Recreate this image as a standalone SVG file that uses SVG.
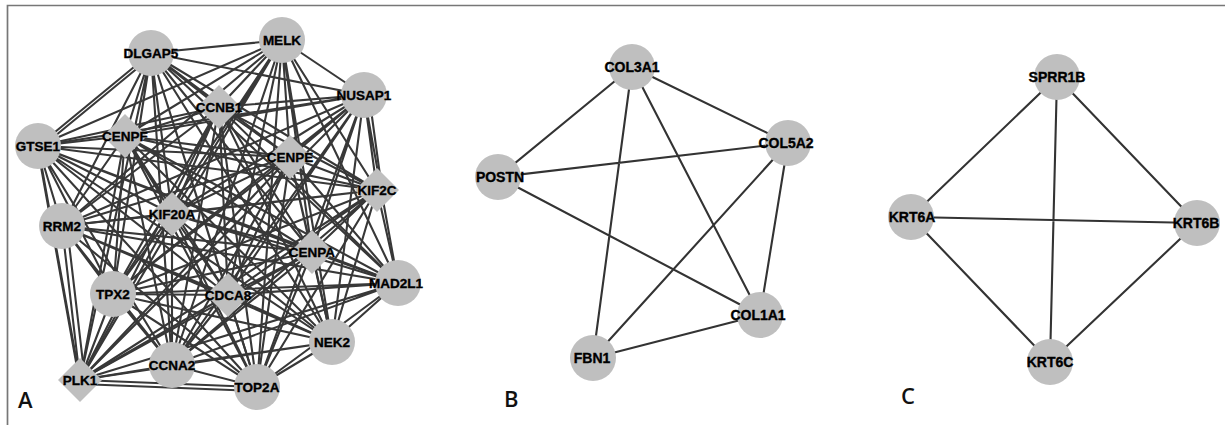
<svg xmlns="http://www.w3.org/2000/svg" width="1225" height="425" viewBox="0 0 1225 425">
<style>
.bg{fill:#ffffff}
.frame{fill:none;stroke:#777777;stroke-width:1.7}
.edgeA{fill:none;stroke:#383838;stroke-width:2.1}
.edge{fill:none;stroke:#333333;stroke-width:2.1}
.n{fill:#bfbfbf}
.t{font-family:"Liberation Sans",Arial,sans-serif;font-weight:bold;font-size:13.5px;fill:#000;stroke:#000;stroke-width:0.35;text-anchor:middle;dominant-baseline:central}
.tb{font-size:14px}
.panel{font-family:"Open Sans","Liberation Sans",sans-serif;font-weight:600;font-size:22px;fill:#111}
</style>
<defs>
<circle id="c" r="23" class="n"/>
<polygon id="d" points="0,-22 22,0 0,22 -22,0" class="n"/>
</defs>
<rect class="bg" x="0" y="0" width="1225" height="425"/>
<path class="frame" d="M7.5 425V5.5H1225"/>
<g id="connectors">
<g id="edges-A" class="edgeA">
<path d="M151 53L282 40M151 53L364 95M151 53L219 107M151 53L38 146M151 53L125 136M151 53L290 157M151 53L377 190M151 53L62 226M151 53L172 214M151 53L312 252M151 53L398 283M151 53L113 294M151 53L228 295M151 53L332 342M151 53L172 365M151 53L80 380M151 53L257 387"/>
<path d="M282 40L364 95M282 40L219 107M282 40L38 146M282 40L125 136M282 40L290 157M282 40L377 190M282 40L62 226M282 40L172 214M282 40L312 252M282 40L398 283M282 40L113 294M282 40L228 295M282 40L332 342M282 40L172 365M282 40L80 380M282 40L257 387"/>
<path d="M364 95L219 107M364 95L38 146M364 95L125 136M364 95L290 157M364 95L377 190M364 95L62 226M364 95L172 214M364 95L312 252M364 95L398 283M364 95L113 294M364 95L228 295M364 95L332 342M364 95L172 365M364 95L80 380M364 95L257 387"/>
<path d="M219 107L38 146M219 107L125 136M219 107L290 157M219 107L377 190M219 107L62 226M219 107L172 214M219 107L312 252M219 107L398 283M219 107L113 294M219 107L228 295M219 107L332 342M219 107L172 365M219 107L80 380M219 107L257 387"/>
<path d="M38 146L125 136M38 146L290 157M38 146L377 190M38 146L62 226M38 146L172 214M38 146L312 252M38 146L398 283M38 146L113 294M38 146L228 295M38 146L332 342M38 146L172 365M38 146L80 380M38 146L257 387"/>
<path d="M125 136L290 157M125 136L377 190M125 136L62 226M125 136L172 214M125 136L312 252M125 136L398 283M125 136L113 294M125 136L228 295M125 136L332 342M125 136L172 365M125 136L80 380M125 136L257 387"/>
<path d="M290 157L377 190M290 157L62 226M290 157L172 214M290 157L312 252M290 157L398 283M290 157L113 294M290 157L228 295M290 157L332 342M290 157L172 365M290 157L80 380M290 157L257 387"/>
<path d="M377 190L62 226M377 190L172 214M377 190L312 252M377 190L398 283M377 190L113 294M377 190L228 295M377 190L332 342M377 190L172 365M377 190L80 380M377 190L257 387"/>
<path d="M62 226L172 214M62 226L312 252M62 226L398 283M62 226L113 294M62 226L228 295M62 226L332 342M62 226L172 365M62 226L80 380M62 226L257 387"/>
<path d="M172 214L312 252M172 214L398 283M172 214L113 294M172 214L228 295M172 214L332 342M172 214L172 365M172 214L80 380M172 214L257 387"/>
<path d="M312 252L398 283M312 252L113 294M312 252L228 295M312 252L332 342M312 252L172 365M312 252L80 380M312 252L257 387"/>
<path d="M398 283L113 294M398 283L228 295M398 283L332 342M398 283L172 365M398 283L80 380M398 283L257 387"/>
<path d="M113 294L228 295M113 294L332 342M113 294L172 365M113 294L80 380M113 294L257 387"/>
<path d="M228 295L332 342M228 295L172 365M228 295L80 380M228 295L257 387"/>
<path d="M332 342L172 365M332 342L80 380M332 342L257 387"/>
<path d="M172 365L80 380M172 365L257 387"/>
<path d="M80 380L257 387"/>
<path d="M67 226L85 380M369 95L382 190M80 384L257 391M38 150L80 384M151 57L38 150"/>
</g>
<g id="edges-B" class="edge">
<path d="M632 67L498 177M632 67L593 358M632 67L760 315M632 67L788 143M498 177L788 143M498 177L760 315M788 143L593 358M788 143L760 315M593 358L760 315"/>
</g>
<g id="edges-C" class="edge">
<path d="M1057 77L911 217M1057 77L1197 223M1057 77L1050 362M911 217L1197 223M911 217L1050 362M1197 223L1050 362"/>
</g>
</g>
<g id="nodes-A">
<g id="n-DLGAP5"><use href="#c" x="151" y="53"/><text class="t" x="151" y="53">DLGAP5</text></g>
<g id="n-MELK"><use href="#c" x="282" y="40"/><text class="t" x="282" y="40">MELK</text></g>
<g id="n-NUSAP1"><use href="#c" x="364" y="95"/><text class="t" x="364" y="95">NUSAP1</text></g>
<g id="n-CCNB1"><use href="#d" x="219" y="107"/><text class="t" x="219" y="107">CCNB1</text></g>
<g id="n-GTSE1"><use href="#c" x="38" y="146"/><text class="t" x="38" y="146">GTSE1</text></g>
<g id="n-CENPF"><use href="#d" x="125" y="136"/><text class="t" x="125" y="136">CENPF</text></g>
<g id="n-CENPE"><use href="#d" x="290" y="157"/><text class="t" x="290" y="157">CENPE</text></g>
<g id="n-KIF2C"><use href="#d" x="377" y="190"/><text class="t" x="377" y="190">KIF2C</text></g>
<g id="n-RRM2"><use href="#c" x="62" y="226"/><text class="t" x="62" y="226">RRM2</text></g>
<g id="n-KIF20A"><use href="#d" x="172" y="214"/><text class="t" x="172" y="214">KIF20A</text></g>
<g id="n-CENPA"><use href="#d" x="312" y="252"/><text class="t" x="312" y="252">CENPA</text></g>
<g id="n-MAD2L1"><use href="#c" x="398" y="283"/><text class="t" x="396" y="283">MAD2L1</text></g>
<g id="n-TPX2"><use href="#c" x="113" y="294"/><text class="t" x="113" y="294">TPX2</text></g>
<g id="n-CDCA8"><use href="#d" x="228" y="295"/><text class="t" x="228" y="295">CDCA8</text></g>
<g id="n-NEK2"><use href="#c" x="332" y="342"/><text class="t" x="332" y="342">NEK2</text></g>
<g id="n-CCNA2"><use href="#c" x="172" y="365"/><text class="t" x="172" y="365">CCNA2</text></g>
<g id="n-PLK1"><use href="#d" x="80" y="380"/><text class="t" x="80" y="380">PLK1</text></g>
<g id="n-TOP2A"><use href="#c" x="257" y="387"/><text class="t" x="257" y="387">TOP2A</text></g>
</g>
<g id="nodes-B">
<g id="n-COL3A1"><use href="#c" x="632" y="67"/><text class="t tb" x="632" y="67">COL3A1</text></g>
<g id="n-POSTN"><use href="#c" x="498" y="177"/><text class="t tb" x="500" y="177">POSTN</text></g>
<g id="n-COL5A2"><use href="#c" x="788" y="143"/><text class="t tb" x="786" y="143">COL5A2</text></g>
<g id="n-COL1A1"><use href="#c" x="760" y="315"/><text class="t tb" x="758" y="315">COL1A1</text></g>
<g id="n-FBN1"><use href="#c" x="593" y="358"/><text class="t tb" x="592" y="358">FBN1</text></g>
</g>
<g id="nodes-C">
<g id="n-SPRR1B"><use href="#c" x="1057" y="77"/><text class="t tb" x="1057" y="77">SPRR1B</text></g>
<g id="n-KRT6A"><use href="#c" x="911" y="217"/><text class="t tb" x="912" y="217">KRT6A</text></g>
<g id="n-KRT6B"><use href="#c" x="1197" y="223"/><text class="t tb" x="1196" y="223">KRT6B</text></g>
<g id="n-KRT6C"><use href="#c" x="1050" y="362"/><text class="t tb" x="1050" y="362">KRT6C</text></g>
</g>
<g id="panel-labels">
<text class="panel" x="18" y="408">A</text>
<text class="panel" x="504" y="407">B</text>
<text class="panel" x="901" y="404">C</text>
</g>
</svg>
